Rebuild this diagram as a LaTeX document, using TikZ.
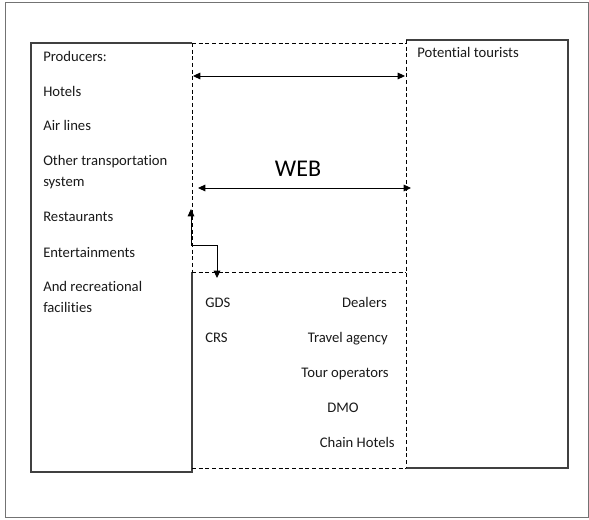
\documentclass[tikz,border=0pt]{standalone}
\usepackage{fontspec}
\setmainfont{Carlito}[Ligatures=NoCommon]
\usetikzlibrary{arrows.meta}
\begin{document}
\begin{tikzpicture}[x=0.75pt,y=-0.75pt,
  boxline/.style={draw=black!75,line width=1.1pt},
  dashline/.style={draw=black,line width=0.6pt,dash pattern=on 3pt off 2pt},
  arr/.style={draw=black,line width=0.7pt},
  tip/.style={-{Triangle[length=5.5pt,width=5pt]}},
  both/.style={{Triangle[length=5.5pt,width=5pt]}-{Triangle[length=5.5pt,width=5pt]}},
  lbl/.style={font=\fontsize{11pt}{13pt}\selectfont,inner sep=0pt,text=black!90},
  web/.style={font=\fontsize{18pt}{20pt}\selectfont,inner sep=0pt,text=black}]
\useasboundingbox (0,0) rectangle (589,520);
% outer frame
\draw[draw=black!55,line width=0.6pt] (5.5,2) rectangle (588.5,517.5);
% coordinates
\coordinate (LTL) at (31,43);
\coordinate (LTR) at (192,43);
\coordinate (LMR) at (192,272);
\coordinate (LBR) at (192,472);
\coordinate (LBL) at (31,472);
\coordinate (RTL) at (406,40);
\coordinate (RTR) at (568,40);
\coordinate (RBR) at (568,468);
\coordinate (RBL) at (406,468);
\coordinate (DBL) at (192,468);
\coordinate (DML) at (192,272);
\coordinate (DMR) at (406,272);
% left box
\draw[boxline] (LMR) -- (LBR) -- (LBL) -- (LTL) -- (LTR);
% right box
\draw[boxline] (RTL) -- (RTR) -- (RBR) -- (RBL);
% dashed regions
\draw[dashline] (LTR) -- (406,43);
\draw[dashline] (LTR) -- (LMR);
\draw[dashline] (DML) -- (DMR);
\draw[dashline] (DBL) -- (RBL);
\draw[dashline] (RTL) -- (RBL);
% arrows
\coordinate (a1l) at (193,76);
\coordinate (a1r) at (405,76);
\coordinate (a2l) at (198,188);
\coordinate (a2r) at (411,188);
\coordinate (u0) at (191,245);
\coordinate (u1) at (191,209);
\coordinate (e1) at (217,245);
\coordinate (e2) at (217,278);
\draw[arr,both] (a1l) -- (a1r);
\draw[arr,both] (a2l) -- (a2r);
\draw[arr,tip] (u0) -- (u1);
\draw[arr,tip] (u0) -- (e1) -- (e2);
% left texts
\node[lbl,anchor=base west] (t1) at (43,62) {Producers:};
\node[lbl,anchor=base west] (t2) at (43,97) {Hotels};
\node[lbl,anchor=base west] (t3) at (43,131) {Air lines};
\node[lbl,anchor=base west] (t4) at (43,166) {Other transportation};
\node[lbl,anchor=base west] (t5) at (43,187) {system};
\node[lbl,anchor=base west] (t6) at (43,222) {Restaurants};
\node[lbl,anchor=base west] (t7) at (43,258) {Entertainments};
\node[lbl,anchor=base west] (t8) at (43,292) {And recreational};
\node[lbl,anchor=base west] (t9) at (43,313) {facilities};
% right box text
\node[lbl,anchor=base west] (pt) at (417,58) {Potential tourists};
% WEB
\node[web,anchor=base] (webt) at (298,177) {WEB};
% middle texts
\node[lbl,anchor=base west] (gds) at (205,308) {GDS};
\node[lbl,anchor=base west] (crs) at (205,343) {CRS};
\node[lbl,anchor=base east] (dl) at (387,308) {Dealers};
\node[lbl,anchor=base east] (ta) at (388,343) {Travel agency};
\node[lbl,anchor=base east] (to) at (389,377) {Tour operators};
\node[lbl,anchor=base] (dmo) at (343,412) {DMO};
\node[lbl,anchor=base east] (ch) at (395,447) {Chain Hotels};
\end{tikzpicture}
\end{document}
